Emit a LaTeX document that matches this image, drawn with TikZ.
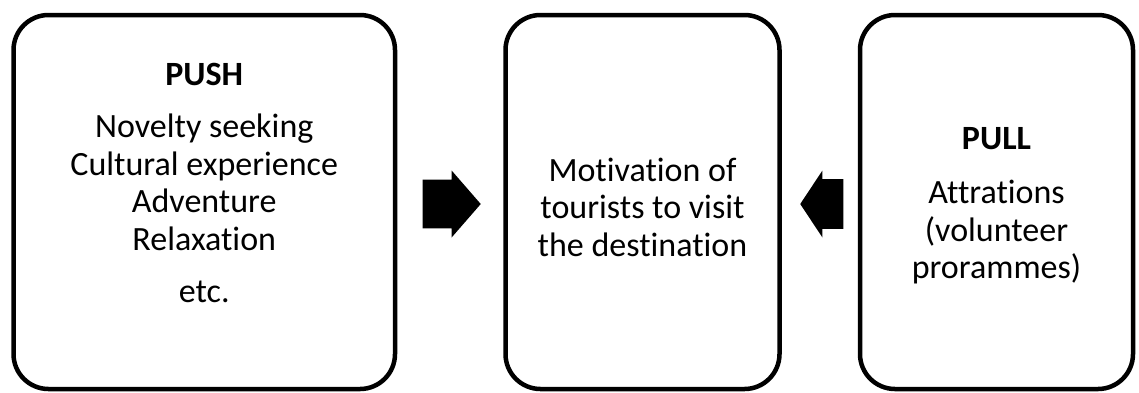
\documentclass[tikz,border=0pt]{standalone}
\usepackage{fontspec}
\setmainfont{Carlito}[RawFeature={-liga,-clig,-dlig}]
\usetikzlibrary{positioning,shapes.arrows}

\begin{document}
\begin{tikzpicture}[
  x=1pt, y=-1pt,
  card/.style={draw, line width=4.5pt, rounded corners=35pt, minimum height=374pt, inner sep=0pt},
  txt/.style={align=center, font=\fontsize{34}{37.5}\selectfont, inner sep=0pt},
  blockarrow/.style={single arrow, fill=black, inner xsep=0pt, single arrow head indent=0pt, minimum width=67pt}
]
\useasboundingbox (0,0) rectangle (1139,392);

% the three cards
\node[card, minimum width=381.5pt] (push) at (204.25,202) {};
\node[card, minimum width=274pt] (motiv) at (642.5,202) {};
\node[card, minimum width=273pt] (pull) at (996.5,202) {};

% their texts
\node[txt] (pushtxt) at (push.center |- 0,183) {\textbf{PUSH}\\[15pt] Novelty seeking\\ Cultural experience\\ Adventure\\ Relaxation\\[15pt] etc.};
\node[txt] (motivtxt) at (motiv.center |- 0,207) {Motivation of\\ tourists to visit\\ the destination};
\node[txt] (pulltxt) at (pull.center |- 0,205.5) {\textbf{PULL}\\[17pt] Attrations\\ (volunteer\\ prorammes)};

% block arrows
\node[blockarrow, inner ysep=19pt, minimum height=58pt, single arrow tip angle=98, anchor=tip] (pushin) at (481,204) {};
\node[blockarrow, inner ysep=20pt, minimum height=43pt, single arrow tip angle=113, shape border rotate=180, anchor=tip] (pullin) at (800,204) {};
\end{tikzpicture}
\end{document}
